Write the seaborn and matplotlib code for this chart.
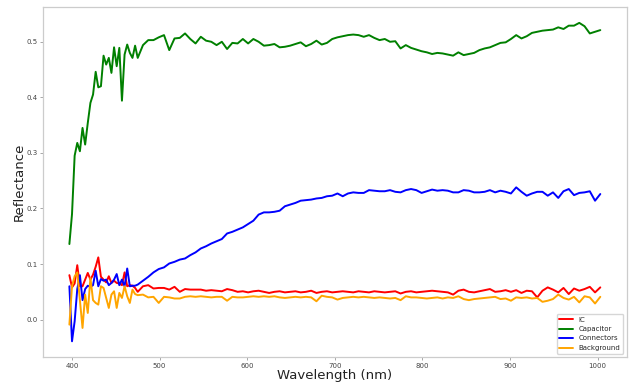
import numpy as np
import pandas as pd
import seaborn as sns
import matplotlib
matplotlib.use('Agg')
import matplotlib.pyplot as plt

# Wavelength grid (nm): finer where the spectra are noisy
wavelengths = [
    397, 400, 403, 406, 409, 412, 415, 418, 421, 424, 427, 430, 433, 436,
    439, 442, 445, 448, 451, 454, 457, 460, 463, 466, 469, 472, 475,
    481, 487, 493, 499, 505, 511, 517, 523, 529, 535, 541, 547, 553, 559,
    565, 571, 577, 583, 589,
    595, 601, 607, 613, 619, 625, 631, 637, 643, 649, 655, 661, 667, 673,
    679, 685, 691, 697, 703, 709, 715, 721, 727, 733, 739, 745, 751, 757,
    763, 769, 775, 781, 787, 793, 799, 805, 811,
    817, 823, 829, 835, 841, 847, 853, 859, 865, 871, 877, 883, 889, 895,
    901, 907, 913, 919, 925, 931, 937, 943, 949, 955, 961, 967, 973, 979,
    985, 991, 997, 1003,
]

ic = [
    0.080, 0.058, 0.065, 0.098, 0.060, 0.060, 0.072, 0.084, 0.072, 0.081,
    0.095, 0.112, 0.077, 0.072, 0.067, 0.078, 0.066, 0.070, 0.066, 0.065,
    0.062, 0.085, 0.060, 0.062, 0.061, 0.057, 0.050,
    0.060, 0.062, 0.056, 0.057, 0.057, 0.054, 0.059, 0.050, 0.055, 0.054,
    0.054, 0.054, 0.052, 0.053, 0.052, 0.051, 0.055, 0.053, 0.050,
    0.051, 0.049, 0.051, 0.052, 0.050, 0.048, 0.050, 0.051, 0.049, 0.050,
    0.051, 0.049, 0.050, 0.052, 0.048, 0.050, 0.051, 0.049, 0.050, 0.051,
    0.050, 0.049, 0.051, 0.050, 0.049, 0.051, 0.050, 0.049, 0.050, 0.051,
    0.047, 0.050, 0.051, 0.049, 0.050, 0.051, 0.052,
    0.051, 0.050, 0.049, 0.045, 0.052, 0.054, 0.050, 0.049, 0.051, 0.053,
    0.055, 0.050, 0.051, 0.053, 0.050, 0.053, 0.048, 0.052, 0.051, 0.040,
    0.052, 0.058, 0.054, 0.049, 0.057, 0.046, 0.056, 0.052, 0.055, 0.059,
    0.049, 0.058,
]

capacitor = [
    0.136, 0.190, 0.295, 0.318, 0.303, 0.345, 0.315, 0.354, 0.390, 0.405,
    0.446, 0.418, 0.420, 0.475, 0.459, 0.471, 0.444, 0.490, 0.456, 0.489,
    0.394, 0.477, 0.495, 0.480, 0.471, 0.493, 0.471,
    0.494, 0.503, 0.503, 0.508, 0.512, 0.485, 0.506, 0.507, 0.515, 0.505,
    0.497, 0.509, 0.502, 0.500, 0.494, 0.500, 0.487, 0.498, 0.497,
    0.505, 0.497, 0.505, 0.500, 0.493, 0.494, 0.496, 0.490, 0.491, 0.493,
    0.496, 0.499, 0.492, 0.496, 0.502, 0.495, 0.498, 0.505, 0.508, 0.510,
    0.512, 0.513, 0.512, 0.509, 0.512, 0.507, 0.503, 0.505, 0.500, 0.501,
    0.488, 0.494, 0.489, 0.486, 0.483, 0.481, 0.478,
    0.480, 0.479, 0.477, 0.475, 0.481, 0.476, 0.478, 0.480, 0.485, 0.488,
    0.490, 0.494, 0.498, 0.499, 0.505, 0.512, 0.506, 0.510, 0.516, 0.518,
    0.520, 0.521, 0.522, 0.526, 0.523, 0.529, 0.529, 0.534, 0.528, 0.515,
    0.518, 0.521,
]

connectors = [
    0.060, -0.039, -0.003, 0.055, 0.080, 0.035, 0.055, 0.061, 0.059, 0.062,
    0.088, 0.060, 0.073, 0.070, 0.072, 0.062, 0.066, 0.072, 0.082, 0.062,
    0.072, 0.060, 0.092, 0.060, 0.061, 0.061, 0.063,
    0.070, 0.077, 0.085, 0.091, 0.094, 0.101, 0.104, 0.108, 0.110, 0.116,
    0.121, 0.128, 0.132, 0.137, 0.141, 0.145, 0.155, 0.158, 0.162,
    0.166, 0.172, 0.178, 0.189, 0.193, 0.193, 0.194, 0.196, 0.204, 0.207,
    0.210, 0.214, 0.215, 0.216, 0.218, 0.219, 0.222, 0.223, 0.227, 0.222,
    0.227, 0.229, 0.228, 0.228, 0.233, 0.232, 0.231, 0.231, 0.233, 0.230,
    0.229, 0.233, 0.235, 0.233, 0.228, 0.231, 0.234,
    0.232, 0.233, 0.232, 0.229, 0.229, 0.233, 0.232, 0.229, 0.229, 0.230,
    0.233, 0.229, 0.232, 0.230, 0.227, 0.238, 0.230, 0.223, 0.227, 0.230,
    0.230, 0.223, 0.229, 0.219, 0.231, 0.235, 0.224, 0.228, 0.229, 0.231,
    0.214, 0.226,
]

background = [
    -0.009, 0.060, 0.078, 0.085, 0.035, -0.015, 0.045, 0.012, 0.075, 0.035,
    0.030, 0.027, 0.060, 0.057, 0.039, 0.021, 0.045, 0.051, 0.021, 0.048,
    0.039, 0.060, 0.042, 0.030, 0.054, 0.046, 0.044,
    0.045, 0.040, 0.041, 0.030, 0.041, 0.040, 0.038, 0.038, 0.041, 0.042,
    0.041, 0.042, 0.041, 0.040, 0.041, 0.041, 0.034, 0.041, 0.040,
    0.040, 0.041, 0.042, 0.041, 0.042, 0.041, 0.042, 0.040, 0.039, 0.040,
    0.041, 0.040, 0.041, 0.040, 0.033, 0.043, 0.041, 0.040, 0.036, 0.039,
    0.040, 0.041, 0.040, 0.041, 0.040, 0.039, 0.040, 0.039, 0.038, 0.039,
    0.035, 0.042, 0.040, 0.040, 0.039, 0.038, 0.039,
    0.040, 0.038, 0.040, 0.039, 0.042, 0.037, 0.035, 0.037, 0.038, 0.039,
    0.040, 0.041, 0.037, 0.038, 0.034, 0.040, 0.039, 0.040, 0.038, 0.039,
    0.032, 0.034, 0.037, 0.045, 0.039, 0.036, 0.041, 0.031, 0.042, 0.040,
    0.029, 0.041,
]

labels = ['IC', 'Capacitor', 'Connectors', 'Background']
colors = ['red', 'green', 'blue', 'orange']

# Build a long-form table for seaborn
df = pd.DataFrame({'Wavelength': wavelengths, 'IC': ic, 'Capacitor': capacitor,
                   'Connectors': connectors, 'Background': background})
df_long = df.melt(id_vars='Wavelength', var_name='Material', value_name='Reflectance')

sns.set_style('whitegrid')

fig = plt.figure(figsize=(6.3, 3.87), dpi=100)
ax = fig.add_subplot(111)
fig.subplots_adjust(left=0.068, right=0.995, bottom=0.077, top=0.982)

sns.lineplot(data=df_long, x='Wavelength', y='Reflectance', hue='Material',
             hue_order=labels, palette=dict(zip(labels, colors)),
             linewidth=1.4, ax=ax)

ax.grid(False)
for spine in ax.spines.values():
    spine.set_color('#cccccc')
    spine.set_linewidth(0.9)

ax.tick_params(axis='both', which='major', labelsize=5, labelcolor='#444444',
               color='#999999', length=2, width=0.6, pad=2,
               bottom=True, left=True)
ax.set_xlabel('Wavelength (nm)', fontsize=9.5, color='#222222', labelpad=0)
ax.set_ylabel('Reflectance', fontsize=9.5, color='#222222', labelpad=0)

sns.move_legend(ax, 'lower right', title=None, fontsize=5, frameon=True)

plt.savefig('out.png', dpi=100)
plt.close()
